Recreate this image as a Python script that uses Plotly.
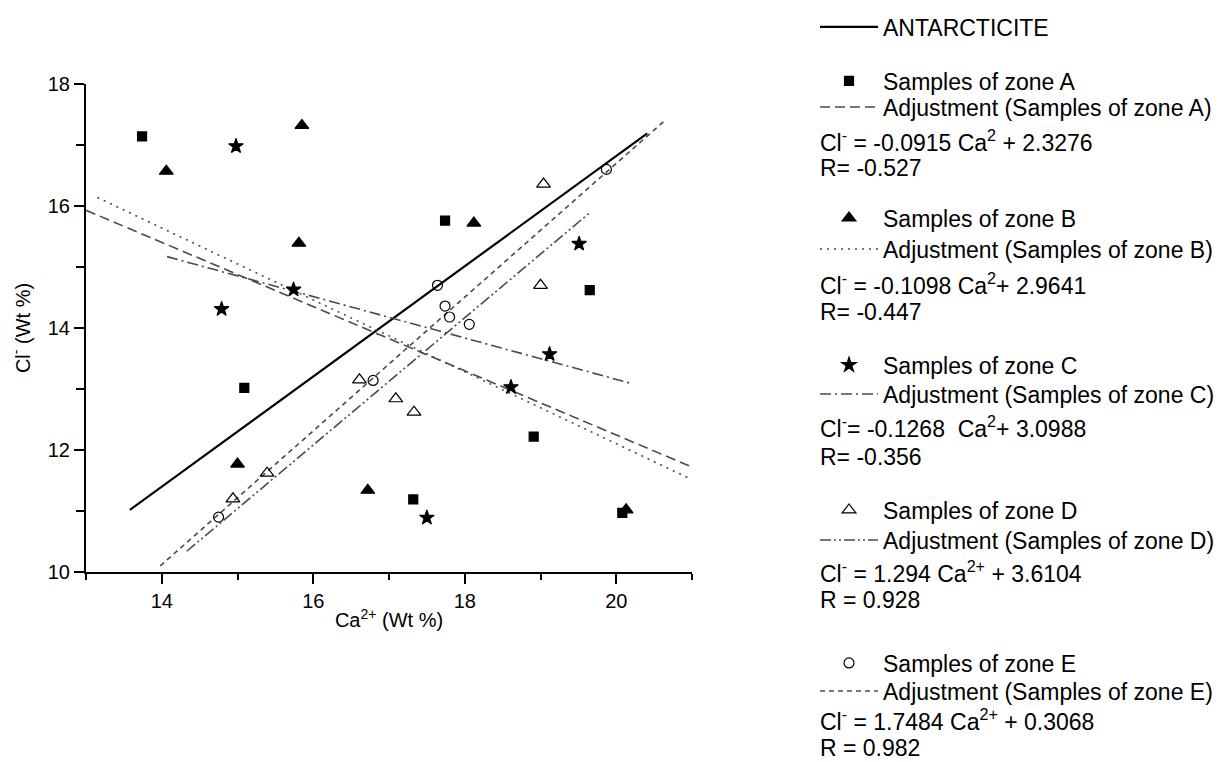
import plotly.graph_objects as go

# ---------------- data ----------------
zone_a_x = [13.74, 17.74, 19.65, 15.09, 18.91, 17.32, 20.08]
zone_a_y = [17.14, 15.76, 14.62, 13.02, 12.22, 11.19, 10.97]
zone_b_x = [14.06, 15.85, 15.81, 18.12, 15.00, 16.72, 20.13]
zone_b_y = [16.57, 17.32, 15.39, 15.72, 11.77, 11.34, 11.02]
zone_c_x = [14.98, 15.74, 14.79, 19.51, 19.12, 18.61, 17.50]
zone_c_y = [16.98, 14.63, 14.31, 15.38, 13.57, 13.03, 10.89]
zone_d_x = [19.04, 19.00, 16.61, 17.09, 17.33, 15.39, 14.94]
zone_d_y = [16.36, 14.70, 13.15, 12.84, 12.62, 11.62, 11.20]
zone_e_x = [19.87, 17.64, 17.74, 17.80, 18.06, 16.79, 14.75]
zone_e_y = [16.60, 14.70, 14.36, 14.18, 14.06, 13.14, 10.90]

antarcticite_x = [13.58, 20.41]
antarcticite_y = [11.02, 17.19]
fit_a_x = [13.0, 21.0]
fit_a_y = [15.93, 11.72]
fit_b_x = [13.15, 20.99]
fit_b_y = [16.14, 11.52]
fit_c_x = [14.07, 20.17]
fit_c_y = [15.17, 13.10]
fit_d_x = [14.33, 19.66]
fit_d_y = [10.34, 15.90]
fit_e_x = [13.98, 20.65]
fit_e_y = [10.10, 17.41]

x_tick_vals = [14, 16, 18, 20]
y_tick_vals = [10, 12, 14, 16, 18]

equations = [
    "Cl<sup>-</sup> = -0.0915 Ca<sup>2</sup> + 2.3276",
    "Cl<sup>-</sup> = -0.1098 Ca<sup>2</sup>+ 2.9641",
    "Cl<sup>-</sup>= -0.1268\u00a0 Ca<sup>2</sup>+ 3.0988",
    "Cl<sup>-</sup> = 1.294 Ca<sup>2+</sup> + 3.6104",
    "Cl<sup>-</sup> = 1.7484 Ca<sup>2+</sup> + 0.3068",
]
r_texts = ["R= -0.527", "R= -0.447", "R= -0.356", "R = 0.928", "R = 0.982"]

# ---------------- layout geometry ----------------
W, H = 1222, 762
L, R, T, B = 86, 530, 84, 190
PW, PH = W - L - R, H - T - B
FONT = "Liberation Sans, Arial, sans-serif"


def px_x(px):
    return (px - L) / PW


def px_y(py):
    return (H - B - py) / PH


fit_color = "#4a4a4a"
fig = go.Figure()

lines = [
    ("ANTARCTICITE", antarcticite_x, antarcticite_y, "black", 2.2, "solid", 27),
    ("Adjustment (Samples of zone A)", fit_a_x, fit_a_y, fit_color, 1.6, "10px,5px", 107),
    ("Adjustment (Samples of zone B)", fit_b_x, fit_b_y, fit_color, 1.6, "2px,5px", 249),
    ("Adjustment (Samples of zone C)", fit_c_x, fit_c_y, fit_color, 1.6, "11px,4px,2px,4px", 394),
    ("Adjustment (Samples of zone D)", fit_d_x, fit_d_y, fit_color, 1.6, "11px,3px,2px,3px,2px,3px", 540),
    ("Adjustment (Samples of zone E)", fit_e_x, fit_e_y, fit_color, 1.6, "5px,4px", 691),
]
markers = [
    ("Samples of zone A", zone_a_x, zone_a_y, "square", 9, 81),
    ("Samples of zone B", zone_b_x, zone_b_y, "triangle-up", 12, 218),
    ("Samples of zone C", zone_c_x, zone_c_y, "star", 11, 365),
    ("Samples of zone D", zone_d_x, zone_d_y, "triangle-up-open", 12, 510),
    ("Samples of zone E", zone_e_x, zone_e_y, "circle-open", 10, 663),
]

legend_layouts = {}
idx = 1


def legend_id(i):
    return "legend" if i == 1 else f"legend{i}"


def add_legend(i, ypx):
    legend_layouts[legend_id(i)] = dict(
        x=px_x(815), y=px_y(ypx), xanchor="left", yanchor="middle",
        xref="paper", yref="paper",
        font=dict(family=FONT, size=23, color="black"),
        bgcolor="rgba(0,0,0,0)", borderwidth=0, itemwidth=58,
        itemclick=False, itemdoubleclick=False,
    )


for name, xs, ys, col, wid, dash, ypx in lines:
    fig.add_trace(go.Scatter(
        x=xs, y=ys, mode="lines", name=name,
        line=dict(color=col, width=wid, dash=dash),
        legend=legend_id(idx), showlegend=True,
    ))
    add_legend(idx, ypx)
    idx += 1

for name, xs, ys, sym, size, ypx in markers:
    fig.add_trace(go.Scatter(
        x=xs, y=ys, mode="markers", name=name,
        marker=dict(symbol=sym, size=size, color="black",
                    line=dict(color="black", width=1.2)),
        legend=legend_id(idx), showlegend=True, cliponaxis=False,
    ))
    add_legend(idx, ypx)
    idx += 1

eq_y = [141, 284, 427, 572, 720]
r_y = [168, 312, 457, 600, 748]
annotations = []
for txt, yy in zip(equations, eq_y):
    annotations.append(dict(text=txt, x=px_x(818), y=px_y(yy), xref="paper", yref="paper",
                            xanchor="left", yanchor="middle", showarrow=False,
                            font=dict(family=FONT, size=23, color="black")))
for txt, yy in zip(r_texts, r_y):
    annotations.append(dict(text=txt, x=px_x(818), y=px_y(yy), xref="paper", yref="paper",
                            xanchor="left", yanchor="middle", showarrow=False,
                            font=dict(family=FONT, size=23, color="black")))

axis_common = dict(
    showline=True, linecolor="black", linewidth=2, mirror=False,
    showgrid=False, zeroline=False, ticks="outside", tickcolor="black",
    tickwidth=1.6, ticklen=10,
    tickfont=dict(family=FONT, size=20, color="black"),
)

fig.update_layout(
    width=W, height=H,
    margin=dict(l=L, r=R, t=T, b=B, autoexpand=False),
    paper_bgcolor="white", plot_bgcolor="white",
    font=dict(family=FONT, color="black"),
    xaxis=dict(range=[13, 21], tickvals=x_tick_vals,
               minor=dict(dtick=1, tick0=13, ticks="outside", ticklen=6, tickwidth=1.6, tickcolor="black"),
               title=dict(text="Ca<sup>2+</sup> (Wt %)", font=dict(family=FONT, size=20), standoff=2),
               **axis_common),
    yaxis=dict(range=[10, 18], tickvals=y_tick_vals,
               minor=dict(dtick=1, tick0=10, ticks="outside", ticklen=8, tickwidth=1.6, tickcolor="black"),
               title=dict(text="Cl<sup>-</sup> (Wt %)", font=dict(family=FONT, size=20), standoff=12),
               **axis_common),
    annotations=annotations,
    **legend_layouts,
)

fig.write_html("out.html")
